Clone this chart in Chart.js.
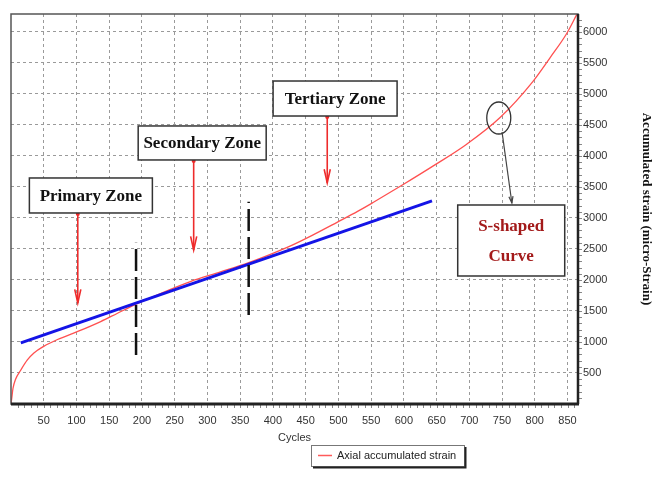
<!DOCTYPE html>
<html>
<head>
<meta charset="utf-8">
<script src="https://cdn.jsdelivr.net/npm/chart.js@4/dist/chart.umd.min.js"></script>
<style>
  html, body { margin: 0; padding: 0; background: #fff; }
  #wrap { width: 654px; height: 494px; position: relative; }
</style>
</head>
<body>
<div id="wrap"><canvas id="c" width="654" height="494"></canvas></div>
<script>
// ---- data ----
const redCycles = [0, 1, 3, 7, 15, 25, 35, 50, 71, 102, 137, 162, 187, 230, 274, 320, 363, 400, 427, 460, 498, 530, 553, 599, 645, 696, 747, 797, 823, 849, 864];
const redStrain = [0, 80, 250, 400, 548, 710, 823, 930, 1040, 1170, 1330, 1460, 1590, 1790, 1975, 2130, 2280, 2430, 2550, 2720, 2930, 3110, 3250, 3540, 3840, 4190, 4620, 5200, 5580, 5980, 6280];
const blueCycles = [15, 643];
const blueStrain = [985, 3275];
const boundaryCycles = [191, 363];
const boundaryLow = [790, 1435];
const boundaryHigh = [2600, 3260];
const xTickValues = [50, 100, 150, 200, 250, 300, 350, 400, 450, 500, 550, 600, 650, 700, 750, 800, 850];
const yTickValues = [500, 1000, 1500, 2000, 2500, 3000, 3500, 4000, 4500, 5000, 5500, 6000];
const xTitle = 'Cycles';
const yTitle = 'Accumulated strain (micro-Strain)';
const legendLabel = 'Axial accumulated strain';

// annotations anchored in data coordinates
const zoneBoxes = [
  { cx: 122, cy: 3363, w: 123, h: 35, lines: ['Primary Zone'], color: '#111' },
  { cx: 292, cy: 4210, w: 128, h: 34, lines: ['Secondary Zone'], color: '#111' },
  { cx: 495, cy: 4927, w: 124, h: 35, lines: ['Tertiary Zone'], color: '#111' },
  { cx: 764, cy: 2637, w: 107, h: 71, lines: ['S-shaped', 'Curve'], color: '#a31a1a' }
];
const zoneArrows = [
  { x: 102, y0: 3080, y1: 1629 },
  { x: 279, y0: 3935, y1: 2484 },
  { x: 483, y0: 4645, y1: 3565 }
];
const ellipseMark = { cx: 745, cy: 4613, rx: 12, ry: 16 };
const pointerArrow = { x0: 750, y0: 4387, x1: 765, y1: 3242 };

const toXY = (xs, ys) => xs.map((x, i) => ({ x: x, y: ys[i] }));

const boundaryDatasets = boundaryCycles.map((c, i) => ({
  label: 'boundary' + i,
  data: [{ x: c, y: boundaryLow[i] }, { x: c, y: boundaryHigh[i] }],
  borderColor: '#111',
  borderWidth: 2.5,
  borderDash: [22, 6],
  pointRadius: 0,
  fill: false,
  order: 0
}));

function drawArrowHead(ctx, x0, y0, x1, y1, len, spread) {
  const a = Math.atan2(y1 - y0, x1 - x0);
  ctx.beginPath();
  ctx.moveTo(x1 - len * Math.cos(a - spread), y1 - len * Math.sin(a - spread));
  ctx.lineTo(x1, y1);
  ctx.lineTo(x1 - len * Math.cos(a + spread), y1 - len * Math.sin(a + spread));
  ctx.stroke();
}

const annotationPlugin = {
  id: 'annot',
  afterDatasetsDraw(chart) {
    const ctx = chart.ctx;
    const xs = chart.scales.x, ys = chart.scales.y;
    const px = v => xs.getPixelForValue(v), py = v => ys.getPixelForValue(v);
    ctx.save();
    // red arrows
    zoneArrows.forEach(a => {
      const x = px(a.x), y0 = py(a.y0), y1 = py(a.y1);
      ctx.strokeStyle = '#ee2b2b';
      ctx.fillStyle = '#ee2b2b';
      ctx.lineWidth = 1.6;
      ctx.beginPath(); ctx.moveTo(x, y0); ctx.lineTo(x, y1); ctx.stroke();
      ctx.beginPath(); ctx.arc(x, y0 + 1, 2, 0, Math.PI * 2); ctx.fill();
      drawArrowHead(ctx, x, y0, x, y1, 14, 0.22);
    });
    // ellipse + pointer
    ctx.strokeStyle = '#333';
    ctx.lineWidth = 1.3;
    ctx.beginPath();
    ctx.ellipse(px(ellipseMark.cx), py(ellipseMark.cy), ellipseMark.rx, ellipseMark.ry, 0, 0, Math.PI * 2);
    ctx.stroke();
    const gx0 = px(pointerArrow.x0), gy0 = py(pointerArrow.y0), gx1 = px(pointerArrow.x1), gy1 = py(pointerArrow.y1);
    ctx.strokeStyle = '#444';
    ctx.lineWidth = 1.2;
    ctx.beginPath(); ctx.moveTo(gx0, gy0); ctx.lineTo(gx1, gy1); ctx.stroke();
    drawArrowHead(ctx, gx0, gy0, gx1, gy1, 7, 0.3);
    // boxes
    zoneBoxes.forEach(b => {
      const cx = px(b.cx), cy = py(b.cy);
      const l = cx - b.w / 2, t = cy - b.h / 2;
      ctx.fillStyle = '#fff';
      ctx.fillRect(l, t, b.w, b.h);
      ctx.strokeStyle = '#333';
      ctx.lineWidth = 1.5;
      ctx.strokeRect(l, t, b.w, b.h);
      ctx.fillStyle = b.color;
      ctx.font = 'bold 17px "Liberation Serif", "Times New Roman", serif';
      ctx.textAlign = 'center';
      ctx.textBaseline = 'middle';
      const lh = 30;
      b.lines.forEach((s, i) => {
        ctx.fillText(s, cx, cy + (i - (b.lines.length - 1) / 2) * lh + 1);
      });
    });
    ctx.restore();
  },
  afterDraw(chart) {
    const ctx = chart.ctx;
    const a = chart.chartArea;
    const xs = chart.scales.x, ys = chart.scales.y;
    ctx.save();
    // minor ticks
    ctx.strokeStyle = '#888';
    ctx.lineWidth = 1;
    for (let v = 10; v < xs.max; v += 10) {
      const x = Math.round(xs.getPixelForValue(v)) + 0.5;
      ctx.beginPath(); ctx.moveTo(x, a.bottom + 1); ctx.lineTo(x, a.bottom + 4); ctx.stroke();
    }
    for (let v = 100; v < ys.max; v += 100) {
      const y = Math.round(ys.getPixelForValue(v)) + 0.5;
      ctx.beginPath(); ctx.moveTo(a.right + 1, y); ctx.lineTo(a.right + 4, y); ctx.stroke();
    }
    // frame
    ctx.strokeStyle = '#555';
    ctx.lineWidth = 1.5;
    ctx.strokeRect(a.left, a.top, a.right - a.left, a.bottom - a.top);
    ctx.strokeStyle = '#222';
    ctx.lineWidth = 3;
    ctx.beginPath(); ctx.moveTo(a.left, a.bottom); ctx.lineTo(a.right + 1, a.bottom); ctx.stroke();
    ctx.lineWidth = 2.5;
    ctx.beginPath(); ctx.moveTo(a.right, a.top); ctx.lineTo(a.right, a.bottom); ctx.stroke();
    // legend
    const lx = 311, ly = 445, lw = 153, lh = 21;
    ctx.fillStyle = '#fff';
    ctx.fillRect(lx, ly, lw, lh);
    ctx.strokeStyle = '#777';
    ctx.lineWidth = 1;
    ctx.strokeRect(lx + 0.5, ly + 0.5, lw, lh);
    ctx.strokeStyle = '#222';
    ctx.lineWidth = 2;
    ctx.beginPath(); ctx.moveTo(lx + lw + 1.5, ly + 2); ctx.lineTo(lx + lw + 1.5, ly + lh + 1.5); ctx.lineTo(lx + 2, ly + lh + 1.5); ctx.stroke();
    ctx.strokeStyle = '#ff5a5a';
    ctx.lineWidth = 1.5;
    ctx.beginPath(); ctx.moveTo(lx + 7, ly + 10.5); ctx.lineTo(lx + 21, ly + 10.5); ctx.stroke();
    ctx.fillStyle = '#222';
    ctx.font = '11px "Liberation Sans Narrow", "Liberation Sans", Arial, sans-serif';
    ctx.textAlign = 'left';
    ctx.textBaseline = 'middle';
    ctx.fillText(legendLabel, lx + 26, ly + 11);
    ctx.restore();
  }
};

const tickFont = { family: '"Liberation Sans Narrow", "Liberation Sans", Arial, sans-serif', size: 11 };

new Chart(document.getElementById('c'), {
  type: 'line',
  data: {
    datasets: [
      {
        label: legendLabel,
        data: toXY(redCycles, redStrain),
        borderColor: '#ff5050',
        borderWidth: 1.3,
        pointRadius: 0,
        tension: 0.4,
        cubicInterpolationMode: 'monotone',
        fill: false,
        order: 2
      },
      {
        label: 'fit',
        data: toXY(blueCycles, blueStrain),
        borderColor: '#1414e6',
        borderWidth: 3,
        pointRadius: 0,
        fill: false,
        order: 1
      },
      ...boundaryDatasets
    ]
  },
  options: {
    responsive: false,
    animation: false,
    layout: { padding: { left: 11, top: 14, right: 0, bottom: 49 } },
    plugins: { legend: { display: false }, tooltip: { enabled: false } },
    scales: {
      x: {
        type: 'linear',
        position: 'bottom',
        min: 0,
        max: 866,
        afterBuildTicks: s => { s.ticks = xTickValues.map(v => ({ value: v })); },
        afterFit: s => { s.height = 41; },
        ticks: { color: '#333', font: tickFont, padding: 10, maxRotation: 0, autoSkip: false, callback: v => String(v) },
        grid: { color: '#9a9a9a', lineWidth: 1, drawTicks: false },
        border: { display: false, dash: [3, 3] },
        title: { display: true, text: xTitle, color: '#333', font: tickFont, padding: { top: 0, bottom: 0 } }
      },
      y: {
        type: 'linear',
        position: 'right',
        min: 0,
        max: 6290,
        afterBuildTicks: s => { s.ticks = yTickValues.map(v => ({ value: v })); },
        afterFit: s => { s.width = 76; },
        ticks: { color: '#333', font: tickFont, padding: 5, autoSkip: false, callback: v => String(v) },
        grid: { color: '#9a9a9a', lineWidth: 1, drawTicks: false },
        border: { display: false, dash: [3, 3] },
        title: { display: true, text: yTitle, color: '#111', font: { family: '"Liberation Serif", "Times New Roman", serif', size: 13, weight: 'bold' }, padding: { top: 0, bottom: 1 } }
      }
    }
  },
  plugins: [annotationPlugin]
});
</script>
</body>
</html>
